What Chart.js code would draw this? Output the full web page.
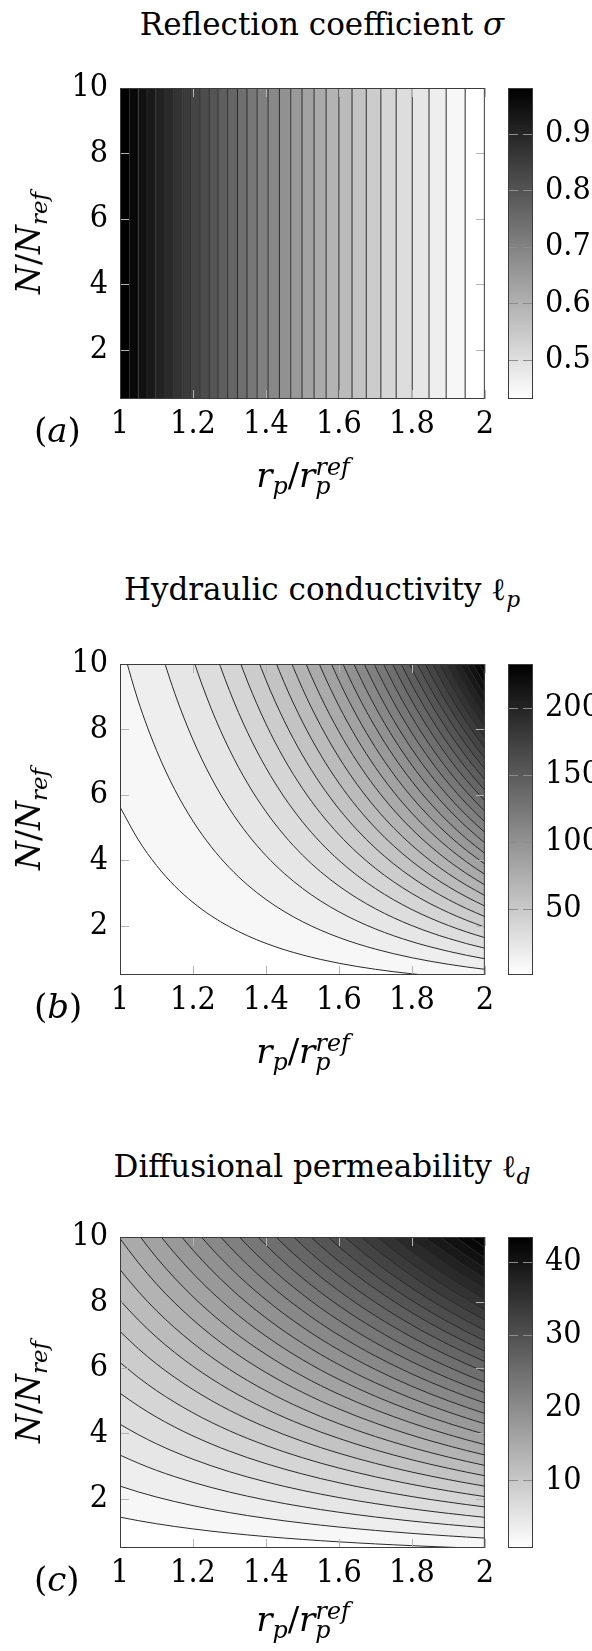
<!DOCTYPE html>
<html>
<head>
<meta charset="utf-8">
<script src="https://cdn.jsdelivr.net/npm/chart.js@4.4.1/dist/chart.umd.min.js"></script>
<style>
html,body{margin:0;padding:0;background:#fff;}
body{position:relative;width:592px;height:1651px;overflow:hidden;font-family:"DejaVu Serif",serif;color:#000;}
canvas{position:absolute;display:block;}
.title{position:absolute;left:0;width:644px;text-align:center;font-size:31px;line-height:36px;white-space:nowrap;}
.xl{position:absolute;left:203px;width:200px;text-align:center;font-size:34px;line-height:36px;white-space:nowrap;}
.yl{position:absolute;font-size:33px;line-height:36px;white-space:nowrap;transform:translate(-50%,-50%) rotate(-90deg);}
.pl{position:absolute;left:34px;font-size:34px;line-height:38px;white-space:nowrap;}
sub{font-size:0.7em;vertical-align:-0.3em;line-height:0;}
sup{font-size:0.7em;vertical-align:0.5em;line-height:0;}
</style>
</head>
<body>
<!-- panel (a) -->
<div class="title" style="top:6px">Reflection coefficient <i>σ</i></div>
<canvas id="mainA" width="500" height="470" style="left:0;top:0"></canvas>
<canvas id="barA" width="84" height="470" style="left:508px;top:0"></canvas>
<div class="yl" style="left:29px;top:243px"><i>N</i>/<i>N</i><sub><i>ref</i></sub></div>
<div class="xl" style="top:457px"><i>r</i><sub><i>p</i></sub>/<i>r</i><sub><i>p</i></sub><sup style="margin-left:-15px"><i>ref</i></sup></div>
<div class="pl" style="top:411px">(<i>a</i>)</div>

<!-- panel (b) -->
<div class="title" style="top:571px">Hydraulic conductivity ℓ<sub><i>p</i></sub></div>
<canvas id="mainB" width="500" height="470" style="left:0;top:576px"></canvas>
<canvas id="barB" width="84" height="470" style="left:508px;top:576px"></canvas>
<div class="yl" style="left:29px;top:819px"><i>N</i>/<i>N</i><sub><i>ref</i></sub></div>
<div class="xl" style="top:1033px"><i>r</i><sub><i>p</i></sub>/<i>r</i><sub><i>p</i></sub><sup style="margin-left:-15px"><i>ref</i></sup></div>
<div class="pl" style="top:987px">(<i>b</i>)</div>

<!-- panel (c) -->
<div class="title" style="top:1148px">Diffusional permeability ℓ<sub><i>d</i></sub></div>
<canvas id="mainC" width="500" height="470" style="left:0;top:1149px"></canvas>
<canvas id="barC" width="84" height="470" style="left:508px;top:1149px"></canvas>
<div class="yl" style="left:29px;top:1392px"><i>N</i>/<i>N</i><sub><i>ref</i></sub></div>
<div class="xl" style="top:1601px"><i>r</i><sub><i>p</i></sub>/<i>r</i><sub><i>p</i></sub><sup style="margin-left:-15px"><i>ref</i></sup></div>
<div class="pl" style="top:1560px">(<i>c</i>)</div>

<script>
// ---------------- data ----------------
const rRange = [1, 2];
const nRange = [0.5, 10];
const rTicks = [1, 1.2, 1.4, 1.6, 1.8, 2];
const rTickLabels = ['1', '1.2', '1.4', '1.6', '1.8', '2'];
const nTicks = [2, 4, 6, 8, 10];
const nTickLabels = ['2', '4', '6', '8', '10'];

// (a) reflection coefficient: positions (r_p/r_p^ref) of the 30 contour lines
const sigmaContourR = [1.026, 1.050, 1.074, 1.098, 1.122, 1.147, 1.172, 1.195, 1.220, 1.245,
  1.269, 1.295, 1.322, 1.348, 1.376, 1.406, 1.437, 1.468, 1.499, 1.532,
  1.565, 1.600, 1.636, 1.675, 1.715, 1.757, 1.801, 1.847, 1.894, 1.946];
const sigmaRange = [0.431, 0.981];
const sigmaBarTicks = [0.5, 0.6, 0.7, 0.8, 0.9];
const sigmaBarLabels = ['0.5', '0.6', '0.7', '0.8', '0.9'];

// radius samples for the N-proportional fields
const rSamples = [1, 1.05, 1.1, 1.15, 1.2, 1.25, 1.3, 1.35, 1.4, 1.45, 1.5,
  1.55, 1.6, 1.65, 1.7, 1.75, 1.8, 1.85, 1.9, 1.95, 2];

// (b) hydraulic conductivity per unit N/N_ref at each radius sample, and contour levels
const lpPerN = [1.456, 1.770, 2.132, 2.547, 3.019, 3.555, 4.158, 4.836, 5.593, 6.436, 7.371,
  8.404, 9.542, 10.792, 12.161, 13.656, 15.284, 17.055, 18.975, 21.052, 23.296];
const lpLevels = [8.2, 15.7, 23.2, 30.7, 38.2, 45.7, 53.2, 60.7, 68.2, 75.7,
  83.2, 90.6, 98.1, 105.6, 113.1, 120.6, 128.1, 135.6, 143.1, 150.6,
  158.1, 165.6, 173.1, 180.6, 188.1, 195.5, 203.0, 210.5, 218.0, 225.5];
const lpRange = [0.73, 233];
const lpBarTicks = [50, 100, 150, 200];
const lpBarLabels = ['50', '100', '150', '200'];

// (c) diffusional permeability per unit N/N_ref at each radius sample, and contour levels
const ldPerN = [1.456, 1.572, 1.692, 1.814, 1.940, 2.069, 2.201, 2.336, 2.473, 2.614, 2.757,
  2.904, 3.052, 3.204, 3.358, 3.515, 3.675, 3.837, 4.001, 4.168, 4.338];
const ldLevels = [2.10, 3.48, 4.86, 6.23, 7.61, 8.98, 10.36, 11.74, 13.11, 14.49,
  15.86, 17.24, 18.62, 19.99, 21.37, 22.74, 24.12, 25.50, 26.87, 28.25,
  29.62, 31.00, 32.38, 33.75, 35.13, 36.50, 37.88, 39.26, 40.63, 42.01];
const ldRange = [0.73, 43.4];
const ldBarTicks = [10, 20, 30, 40];
const ldBarLabels = ['10', '20', '30', '40'];

// ---------------- rendering ----------------
const FONT = '"DejaVu Serif Condensed", "DejaVu Serif", serif';
const FSIZE = 32;
const LINE = '#2a2a2a';
const NBANDS = 30;
function grayOf(k) {
  const v = Math.round(255 * (1 - k / NBANDS));
  return 'rgb(' + v + ',' + v + ',' + v + ')';
}

const framePlugin = {
  id: 'frame',
  afterDatasetsDraw(chart) {
    const { ctx, chartArea: a, scales } = chart;
    const x = scales.x, y = scales.y;
    ctx.save();
    ctx.strokeStyle = '#b4b4b4';
    ctx.lineWidth = 1;
    ctx.beginPath();
    x.ticks.forEach(t => {
      const px = Math.round(x.getPixelForValue(t.value)) + 0.5;
      ctx.moveTo(px, a.top); ctx.lineTo(px, a.top + 9);
      ctx.moveTo(px, a.bottom); ctx.lineTo(px, a.bottom - 9);
    });
    y.ticks.forEach(t => {
      const py = Math.round(y.getPixelForValue(t.value)) + 0.5;
      ctx.moveTo(a.left, py); ctx.lineTo(a.left + 9, py);
      ctx.moveTo(a.right, py); ctx.lineTo(a.right - 9, py);
    });
    ctx.stroke();
    ctx.strokeStyle = '#3c3c3c';
    ctx.strokeRect(a.left + 0.5, a.top + 0.5, a.right - a.left - 1, a.bottom - a.top - 1);
    ctx.restore();
  }
};

const barFramePlugin = {
  id: 'barframe',
  afterDatasetsDraw(chart) {
    const { ctx, chartArea: a } = chart;
    const y = chart.scales.y;
    ctx.save();
    ctx.strokeStyle = '#8c8c8c';
    ctx.lineWidth = 1;
    ctx.beginPath();
    y.ticks.forEach(t => {
      const py = Math.round(y.getPixelForValue(t.value)) + 0.5;
      ctx.moveTo(a.left, py); ctx.lineTo(a.left + 10, py);
      ctx.moveTo(a.right, py); ctx.lineTo(a.right - 10, py);
    });
    ctx.stroke();
    ctx.strokeStyle = '#3c3c3c';
    ctx.strokeRect(a.left + 0.5, a.top + 0.5, a.right - a.left - 1, a.bottom - a.top - 1);
    ctx.restore();
  }
};

function mainChart(id, datasets) {
  return new Chart(document.getElementById(id), {
    type: 'line',
    data: { datasets },
    options: {
      responsive: false, animation: false, events: [],
      layout: { padding: { left: 0, right: 13, top: 88, bottom: 31 } },
      plugins: { legend: { display: false }, tooltip: { enabled: false }, title: { display: false } },
      elements: { point: { radius: 0 } },
      scales: {
        x: {
          type: 'linear', min: rRange[0], max: rRange[1],
          grid: { display: false, drawTicks: false }, border: { display: false },
          afterBuildTicks: s => { s.ticks = rTicks.map(v => ({ value: v })); },
          afterFit: s => { s.height = 40; },
          ticks: { autoSkip: false, maxRotation: 0, padding: 6, color: '#000',
            font: { family: FONT, size: FSIZE }, callback: (v, i) => rTickLabels[i] }
        },
        y: {
          type: 'linear', min: nRange[0], max: nRange[1],
          grid: { display: false, drawTicks: false }, border: { display: false },
          afterBuildTicks: s => { s.ticks = nTicks.map(v => ({ value: v })); },
          afterFit: s => { s.width = 120; },
          ticks: { autoSkip: false, padding: 12, color: '#000',
            font: { family: FONT, size: FSIZE }, callback: (v, i) => nTickLabels[i] }
        }
      }
    },
    plugins: [framePlugin]
  });
}

function colorBar(id, range, ticks, labels) {
  return new Chart(document.getElementById(id), {
    type: 'bar',
    data: {
      labels: [''],
      datasets: [{
        data: [[range[0], range[1]]],
        borderWidth: 0, barPercentage: 1, categoryPercentage: 1,
        backgroundColor: ctx => {
          const a = ctx.chart.chartArea;
          if (!a) return '#888';
          const g = ctx.chart.ctx.createLinearGradient(0, a.bottom, 0, a.top);
          g.addColorStop(0, '#ffffff');
          g.addColorStop(1, '#000000');
          return g;
        }
      }]
    },
    options: {
      responsive: false, animation: false, events: [],
      layout: { padding: { left: 0, right: 0, top: 88, bottom: 71 } },
      plugins: { legend: { display: false }, tooltip: { enabled: false } },
      scales: {
        x: { display: false },
        y: {
          position: 'right', min: range[0], max: range[1],
          grid: { display: false, drawTicks: false }, border: { display: false },
          afterBuildTicks: s => { s.ticks = ticks.map(v => ({ value: v })); },
          afterFit: s => { s.width = 59; },
          ticks: { autoSkip: false, padding: 12, color: '#000',
            font: { family: FONT, size: FSIZE }, callback: (v, i) => labels[i] }
        }
      }
    },
    plugins: [barFramePlugin]
  });
}

function sigmaDatasets() {
  const ds = [];
  sigmaContourR.forEach(c => ds.push({
    data: [{ x: c, y: nRange[0] }, { x: c, y: nRange[1] }],
    borderColor: LINE, borderWidth: 1, pointRadius: 0, fill: false
  }));
  const edges = [rRange[0]].concat(sigmaContourR, [rRange[1]]);
  for (let i = 0; i < edges.length - 1; i++) {
    ds.push({
      data: [{ x: edges[i], y: nRange[1] }, { x: edges[i + 1], y: nRange[1] }],
      borderWidth: 0, borderColor: 'rgba(0,0,0,0)', pointRadius: 0,
      fill: 'start', backgroundColor: grayOf(sigmaContourR.length - i)
    });
  }
  return ds;
}

function contourDatasets(perN, levels) {
  const ds = [];
  for (let j = levels.length - 1; j >= 0; j--) {
    ds.push({
      data: rSamples.map((r, i) => ({ x: r, y: levels[j] / perN[i] })),
      borderColor: LINE, borderWidth: 1, pointRadius: 0,
      cubicInterpolationMode: 'monotone',
      fill: 'end', backgroundColor: grayOf(j + 1)
    });
  }
  return ds;
}

mainChart('mainA', sigmaDatasets());
colorBar('barA', sigmaRange, sigmaBarTicks, sigmaBarLabels);
mainChart('mainB', contourDatasets(lpPerN, lpLevels));
colorBar('barB', lpRange, lpBarTicks, lpBarLabels);
mainChart('mainC', contourDatasets(ldPerN, ldLevels));
colorBar('barC', ldRange, ldBarTicks, ldBarLabels);
</script>
</body>
</html>
